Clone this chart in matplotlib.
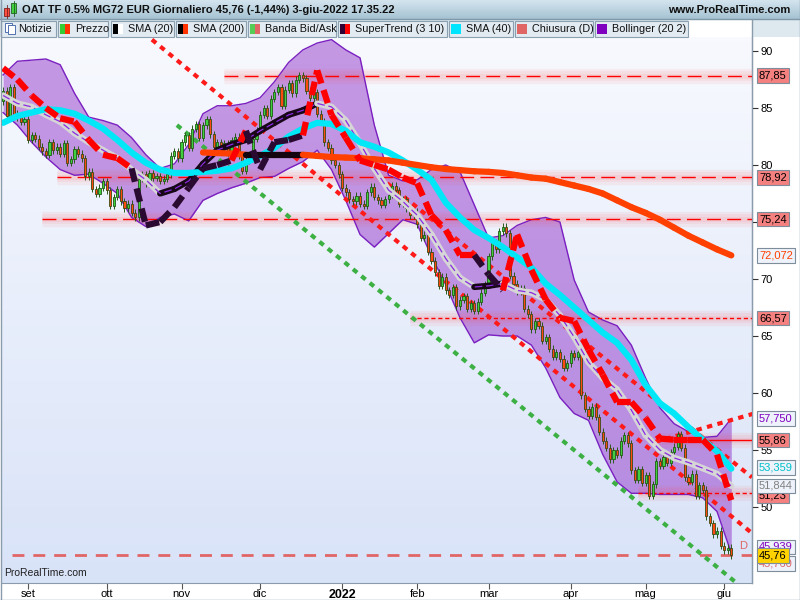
import numpy as np
import pandas as pd
import matplotlib
matplotlib.use('Agg')
from matplotlib import pyplot as plt
from matplotlib.patches import Rectangle
from matplotlib.colors import LinearSegmentedColormap
import matplotlib.transforms as mtransforms

plt.rcParams['font.family'] = ['Liberation Sans', 'DejaVu Sans']

# ---------------------------------------------------------------- data
dates = pd.bdate_range('2021-08-23', '2022-06-03')
first_open = 85.6
closes = [
    86.5, 84.3, 86.8, 84.5, 84.2, 83.8, 84.0,  # ago
    82.2, 82.6, 82.3, 81.6, 81.2, 80.9, 82.0, 81.3, 81.6, 81.0, 81.9,
    80.2, 80.5, 81.4, 81.0, 80.6, 79.0, 79.4, 77.9, 77.5, 78.0, 78.6,  # set
    77.8, 76.4, 77.2, 77.9, 76.8, 76.2, 76.6, 75.8, 75.4, 78.8, 79.2,
    78.4, 79.3, 78.9, 79.0, 78.6, 78.8, 79.2, 80.8, 81.2, 80.6,  # ott
    82.0, 82.6, 81.5, 83.2, 83.6, 82.4, 83.5, 84.0, 82.7, 81.6, 82.0,
    81.5, 81.9, 81.0, 82.2, 82.5, 80.8, 79.5, 80.4, 80.9, 82.3, 83.0,  # nov
    84.4, 85.0, 84.3, 85.8, 86.4, 86.8, 85.2, 86.6, 87.2, 86.3, 87.5, 87.9,
    87.6, 86.5, 85.9, 86.4, 84.5, 83.8, 82.0, 81.5, 80.4, 80.0, 79.2,  # dic
    78.0, 77.6, 77.0, 76.8, 77.3, 76.6, 76.4, 77.6, 78.1, 77.2, 76.9,
    76.5, 77.0, 77.4, 78.2, 77.8, 76.6, 77.0, 76.2, 75.6, 75.9,  # gen
    74.8, 73.6, 73.9, 72.4, 71.6, 70.6, 69.4, 70.2, 69.0, 68.6,
    69.3, 67.6, 68.2, 68.5, 67.4, 67.9, 67.2, 68.0, 68.8, 69.5,  # feb
    72.0, 73.2, 72.6, 74.2, 74.6, 74.0, 70.3, 69.6, 68.9, 69.2, 67.4, 66.9,
    65.6, 66.3, 65.9, 64.6, 64.9, 63.9, 63.2, 63.6, 63.0, 62.2, 62.6,  # mar
    63.5, 63.2, 63.6, 59.8, 58.6, 58.0, 58.8, 57.9, 56.6, 55.8, 55.2,
    54.2, 55.0, 54.6, 55.8, 56.3, 55.6, 53.2, 52.4, 53.3, 52.1,  # apr
    52.8, 51.0, 52.0, 54.0, 53.6, 54.4, 53.9, 54.8, 55.3, 56.4, 55.2,
    52.6, 52.2, 52.9, 51.0, 51.9, 51.5, 49.2, 48.6, 47.6, 47.9, 46.6,  # mag
    46.2, 46.43, 45.76,  # giu
]

# indicators, read every 4 sessions
step = 4
sma20 = [86.1, 85.4, 85.1, 84.4, 83.8, 82.8, 82.0, 81.3, 80.6, 79.6, 78.7, 77.5, 77.9,
         78.6, 80.1, 81.3, 81.8, 82.2, 83.0, 83.7, 84.4, 84.8, 85.4, 85.1, 83.9, 81.9,
         79.7, 77.8, 76.8, 75.6, 73.9, 71.8, 70.1, 69.3, 69.4, 69.6, 69.0, 68.8, 68.2,
         66.8, 64.9, 62.7, 61.3, 60.3, 58.5, 56.3, 55.0, 54.3, 53.9, 53.4, 52.9, 51.844]
sma40 = [83.7, 84.3, 84.6, 84.9, 84.8, 84.5, 83.9, 83.2, 82.2, 81.1, 80.2, 79.6, 79.3,
         79.3, 79.4, 79.5, 79.7, 80.2, 80.8, 81.5, 82.5, 83.2, 83.7, 83.6, 83.0, 82.0,
         81.6, 81.1, 80.4, 79.6, 78.7, 76.7, 75.4, 74.3, 73.6, 72.8, 71.9, 71.0, 69.6,
         68.6, 67.5, 66.4, 65.3, 64.4, 62.9, 60.7, 59.1, 58.2, 57.0, 55.9, 54.9, 53.359]
sma200_start = 56
sma200 = [81.1, 81.05, 81.0, 80.9, 80.9, 80.9, 80.9, 80.9, 80.8, 80.7, 80.65, 80.6, 80.5,
          80.4, 80.2, 80.0, 79.8, 79.65, 79.55, 79.45, 79.4, 79.3, 79.1, 78.9, 78.8, 78.5,
          78.2, 77.9, 77.5, 76.9, 76.3, 75.8, 75.2, 74.5, 73.8, 73.2, 72.6, 72.072]
boll_up = [87.9, 89.1, 89.2, 89.3, 88.8, 86.3, 84.2, 83.9, 83.5, 82.4, 80.9, 79.7, 80.1,
           81.8, 84.5, 85.2, 85.2, 85.4, 85.9, 87.3, 89.0, 90.1, 90.7, 91.0, 90.1, 89.4,
           83.5, 79.1, 78.6, 78.7, 79.6, 80.0, 79.4, 76.5, 73.6, 73.8, 74.7, 75.2, 75.4,
           75.0, 69.9, 67.1, 66.4, 65.9, 64.2, 61.3, 58.7, 57.3, 56.6, 56.1, 56.2, 57.75]
boll_dn = [84.6, 83.5, 82.0, 80.7, 79.6, 79.1, 79.2, 78.4, 77.5, 75.4, 74.6, 75.4, 75.7,
           75.1, 76.9, 77.5, 78.0, 78.4, 78.9, 79.0, 79.7, 80.3, 81.3, 79.6, 76.9, 73.9,
           72.8, 74.0, 75.2, 74.8, 72.0, 69.5, 66.6, 64.4, 65.1, 65.0, 65.0, 64.2, 62.2,
           59.6, 58.2, 57.6, 54.6, 52.2, 51.2, 51.2, 51.1, 51.1, 51.1, 50.8, 49.6, 45.939]
supertrend = [88.5, 87.5, 86.1, 85.0, 84.1, 83.8, 82.2, 80.9, 80.6, 79.7,
              74.7, 75.0, 76.3, 78.0, 79.7, 80.0, 80.4, 83.0, 79.6, 82.0, 82.2, 82.6,
              88.3, 84.4, 82.4, 80.4, 80.0, 79.6, 78.9, 78.4, 75.6, 74.3, 72.1, 72.1,
              70.4, 69.0, 73.9, 70.8, 68.2, 66.6, 66.3, 63.8, 61.6, 59.2, 59.2, 57.8,
              56.0, 55.9, 55.9, 55.9, 54.6, 50.6]
st_dir = "dddddddddd" "uuuuuuu" "d" "uuuu" "dddddddddddd" "uu" "dddddddddddddddd"

# support / resistance levels (value, first session)
levels = [87.85, 78.92, 75.24, 66.57, 55.86, 51.23]
level_start = [62, 15, 11, 114, 183, 178]
level_style = ['long', 'long', 'long', 'short', 'solid', 'short']
last_close = 45.76

# drawn trend lines: (session, value) end points
red_lines = [([41.7, 209.8], [91.0, 47.7]),
             ([107.6, 209.8], [78.4, 52.6]),
             ([182.6, 210.4], [55.7, 58.2])]
green_line = ([48.7, 205.6], [83.5, 43.3])

month_labels = ['set', 'ott', 'nov', 'dic', '2022', 'feb', 'mar', 'apr', 'mag', 'giu']

# ---------------------------------------------------------------- figure
fig = plt.figure(figsize=(8, 6), dpi=100)
frame = fig.add_axes([0, 0, 1, 1], zorder=0)
frame.axis('off')

bg = LinearSegmentedColormap.from_list('bg', ['#f7f9fe', '#d9e3f8'])
frame.imshow(np.linspace(0, 1, 100).reshape(-1, 1), cmap=bg, aspect='auto',
             extent=[2, 752, 583, 37])
tb = LinearSegmentedColormap.from_list('tb', ['#d3e4ee', '#a6c3d3'])
frame.imshow(np.linspace(0, 1, 20).reshape(-1, 1), cmap=tb, aspect='auto',
             extent=[0, 800, 19, 0])
frame.set_xlim(0, 800)
frame.set_ylim(600, 0)

frame.add_patch(Rectangle((0, 19), 800, 18, fc='#dde8ef', ec='none'))
frame.add_patch(Rectangle((688, 19.5), 64, 17, fc='white', ec='none'))
frame.plot([0, 800], [19, 19], color='#7f98a8', lw=1)
frame.plot([752, 752], [19, 583], color='#8a9cab', lw=1)
frame.plot([0, 800], [599.5, 599.5], color='#8a9cab', lw=1)
frame.plot([799.5, 799.5], [0, 600], color='#8a9cab', lw=1)
frame.plot([0.5, 0.5], [0, 600], color='#8a9cab', lw=1)

# title icon + texts
frame.add_patch(Rectangle((4, 8), 5, 8, fc='#ff5040', ec='#802020', lw=0.6))
frame.plot([6.5, 6.5], [5, 18], color='#802020', lw=0.6)
frame.add_patch(Rectangle((11, 3), 5, 10, fc='#40d040', ec='#206020', lw=0.6))
frame.plot([13.5, 13.5], [1, 16], color='#206020', lw=0.6)
frame.text(22, 10, 'OAT TF 0.5% MG72 EUR Giornaliero 45,76 (-1,44%) 3-giu-2022 17.35.22',
           fontsize=8, fontweight='bold', va='center', color='#101010')
frame.text(790, 10, 'www.ProRealTime.com', fontsize=8, fontweight='bold',
           va='center', ha='right', color='#101010')

legend_items = [
    ('Notizie', 0, 55, None),
    ('Prezzo', 57, 107, ['#33cc33', '#ff3300']),
    ('SMA (20)', 110, 173, ['#000000', '#ffffff']),
    ('SMA (200)', 175, 245, ['#000000', '#ff3300']),
    ('Banda Bid/Ask', 247, 335, ['#55cc55', '#e06666']),
    ('SuperTrend (3 10)', 337, 446, ['#330033', '#ff0000']),
    ('SMA (40)', 448, 512, ['#00e5ff']),
    ('Chiusura (D)', 514, 592, ['#e06666']),
    ('Bollinger (20 2)', 594, 687, ['#8000c0']),
]
for name, x0, x1, sw in legend_items:
    frame.add_patch(Rectangle((x0 + 0.5, 20.5), x1 - x0, 16, fc='#e2ebf1', ec='#8aa0b0', lw=0.8))
    if sw is None:
        frame.add_patch(Rectangle((x0 + 5, 23), 7, 9, fc='white', ec='#5070b0', lw=0.7))
        frame.add_patch(Rectangle((x0 + 8, 25), 7, 9, fc='white', ec='#5070b0', lw=0.7))
    else:
        w = 10 / len(sw)
        for k, col in enumerate(sw):
            frame.add_patch(Rectangle((x0 + 3 + k * w, 23.5), w, 10, fc=col, ec='none'))
    frame.text(x0 + 18, 29, name, fontsize=7.8, va='center', color='#101010')

# ---------------------------------------------------------------- main panel
ax = fig.add_axes([2 / 800, 17 / 600, 750 / 800, 546 / 600], zorder=1)
ax.patch.set_alpha(0)
x = np.arange(len(closes))
ix = np.arange(0, len(closes), step)

c = np.array(closes)
o = np.r_[first_open, c[:-1]]
up = c >= o
body_lo = np.minimum(o, c)
body_h = np.maximum(np.abs(c - o), 0.08)
ax.vlines(x, body_lo - 0.3, body_lo + body_h + 0.3, color='#2a5a1a', lw=0.7, zorder=3)
ax.bar(x[up], body_h[up], bottom=body_lo[up], width=0.6, color='#3fcf3f',
       edgecolor='#1f5a12', lw=0.6, zorder=3.1)
ax.bar(x[~up], body_h[~up], bottom=body_lo[~up], width=0.6, color='#ff4a10',
       edgecolor='#3a4a12', lw=0.6, zorder=3.1)

# bollinger
ax.fill_between(ix, boll_dn, boll_up, color='#8e2dc8', alpha=0.48, lw=0, zorder=1)
ax.plot(ix, boll_up, color='#7a1fc0', lw=1, zorder=1.5)
ax.plot(ix, boll_dn, color='#7a1fc0', lw=1, zorder=1.5)

# levels with a soft glow
for lv, st, sty in zip(levels, level_start, level_style):
    for glw in (11, 7, 3.5):
        ax.plot([st, 215], [lv, lv], color='#ff4040', lw=glw, alpha=0.07,
                solid_capstyle='butt', zorder=1.2)
    ls = {'long': (0, (10, 4.5)), 'short': (0, (3, 2)), 'solid': '-'}[sty]
    ax.plot([st, 215], [lv, lv], color='#ff0000', lw=1, ls=ls, zorder=2)

ax.plot([2.5, 215], [last_close, last_close], color='#e06666', lw=2,
        ls=(0, (4.3, 3.2)), zorder=2)
ax.text(206.3, last_close + 0.55, 'D', color='#e06666', fontsize=8, zorder=6)

# trend lines
for xs, ys in red_lines:
    ax.plot(xs, ys, color='#ff1a1a', lw=3, ls=(0, (1.3, 1.3)), zorder=2.5)
ax.plot(green_line[0], green_line[1], color='#3cb043', lw=3, ls=(0, (1.3, 1.3)), zorder=2.5)

# moving averages
sma20_a = np.array(sma20)
for k in range(len(ix) - 1):
    col = '#170717' if sma20_a[k + 1] >= sma20_a[k] else '#d6d6d6'
    ax.plot(ix[k:k + 2], sma20_a[k:k + 2], color=col, lw=4.5,
            solid_capstyle='round', zorder=4)
ax.plot(ix, sma20, color='#8a2be2', lw=0.9, ls=(0, (6, 3)), zorder=4.1)
ax.plot(ix, sma40, color='#00e8f8', lw=4.5, solid_capstyle='round', zorder=4.2)

ix200 = ix[sma200_start // step:]
sma200_a = np.array(sma200)
for k in range(len(ix200) - 1):
    col = '#150510' if sma200_a[k + 1] >= sma200_a[k] else '#ff4000'
    ax.plot(ix200[k:k + 2], sma200_a[k:k + 2], color=col, lw=4.5,
            solid_capstyle='round', zorder=4.3)

# supertrend
for k in range(len(ix) - 1):
    col = '#ff0000' if st_dir[k + 1] == 'd' else '#2a0a30'
    ax.plot(ix[k:k + 2], supertrend[k:k + 2], color=col, lw=4.5,
            ls=(0, (2.2, 1.1)), zorder=5)

ax.set_xlim(-0.3, 209.8)
ax.set_ylim(43.33, 91.23)

# axes styling
for s in ['left', 'top']:
    ax.spines[s].set_visible(False)
ax.spines['right'].set_color('#8a9cab')
ax.spines['bottom'].set_color('#8a9cab')
ax.yaxis.tick_right()
ax.set_yticks(np.arange(50, 91, 5))
ax.tick_params(axis='y', length=4, pad=2, labelsize=8, color='#333333')
month_pos = [i for i in range(1, len(dates)) if dates[i].month != dates[i - 1].month]
ax.set_xticks(month_pos)
ax.set_xticklabels(month_labels)
ax.tick_params(axis='x', length=4, pad=0.5, labelsize=8, color='#555555')
for lab in ax.get_xticklabels():
    if lab.get_text() == '2022':
        lab.set_fontweight('bold')
        lab.set_fontsize(9)

ax.text(0.003, 0.012, 'ProRealTime.com', transform=ax.transAxes, fontsize=7.5,
        color='#202020', zorder=6)

# price boxes on the right scale
trans = mtransforms.blended_transform_factory(ax.transAxes, ax.transData)
boxes = [
    (87.85, '87,85', '#f48080', 'black'),
    (78.92, '78,92', '#f48080', 'black'),
    (75.24, '75,24', '#f48080', 'black'),
    (72.072, '72,072', '#eef2fb', '#ff4000'),
    (66.57, '66,57', '#f48080', 'black'),
    (57.75, '57,750', '#eef2fb', '#8000c0'),
    (55.86, '55,86', '#f48080', 'black'),
    (53.45, '53,359', '#eef2fb', '#00c0c8'),
    (51.0, '51,23', '#f48080', 'black'),
    (51.844, '51,844', '#eef2fb', '#808080'),
    (46.5, '45,939', '#eef2fb', '#8000c0'),
    (45.05, '45,760', '#eef2fb', '#e06666'),
    (45.76, '45,76', '#ffd200', 'black'),
]
for k, (v, txt, fc, tc) in enumerate(boxes):
    ax.text(1.0093, v, txt, transform=trans, ha='left', va='center', fontsize=8,
            color=tc, clip_on=False, zorder=20 + k,
            bbox=dict(boxstyle='square,pad=0.2', fc=fc, ec='#7d8d9c', lw=0.8))

fig.savefig('out.png', dpi=100)
